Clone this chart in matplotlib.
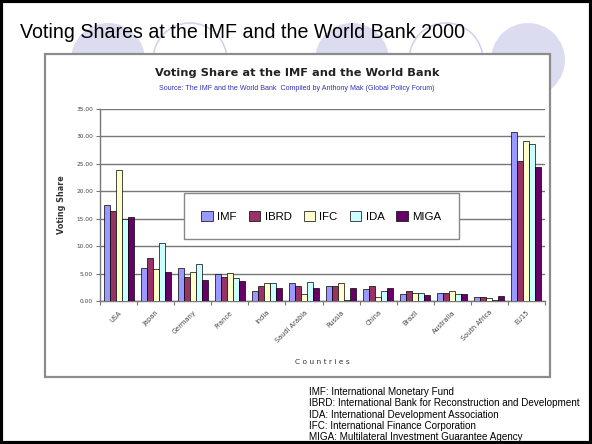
import matplotlib
matplotlib.use("Agg")
import matplotlib.pyplot as plt
from matplotlib.patches import Rectangle, Circle
import numpy as np

countries = ["USA", "Japan", "Germany", "France", "India", "Saudi Arabia", "Russia",
             "China", "Brazil", "Australia", "South Africa", "EU15"]
imf  = [17.5, 6.1, 6.1, 5.0, 1.8, 3.2, 2.7, 2.1, 1.3, 1.4, 0.7, 30.8]
ibrd = [16.4, 7.8, 4.3, 4.3, 2.7, 2.7, 2.7, 2.7, 1.9, 1.4, 0.7, 25.6]
ifc  = [23.8, 5.8, 5.2, 5.1, 3.3, 1.2, 3.3, 0.8, 1.5, 1.8, 0.6, 29.2]
ida  = [15.0, 10.6, 6.8, 4.2, 3.2, 3.5, 0.1, 1.8, 1.5, 1.2, 0.2, 28.6]
miga = [15.4, 5.3, 3.8, 3.6, 2.3, 2.4, 2.4, 2.4, 1.1, 1.3, 1.0, 24.5]
series_names = ["IMF", "IBRD", "IFC", "IDA", "MIGA"]
series_values = [imf, ibrd, ifc, ida, miga]
series_colors = ["#9999FF", "#993366", "#FFFFCC", "#CCFFFF", "#660066"]
yticks = [0, 5, 10, 15, 20, 25, 30, 35]
notes = ["IMF: International Monetary Fund",
         "IBRD: International Bank for Reconstruction and Development",
         "IDA: International Development Association",
         "IFC: International Finance Corporation",
         "MIGA: Multilateral Investment Guarantee Agency"]

W, H = 592, 444
fig = plt.figure(figsize=(W / 100, H / 100), dpi=100)
fig.patch.set_facecolor("white")

# background slide layer in pixel coordinates
bg = fig.add_axes([0, 0, 1, 1])
bg.set_xlim(0, W)
bg.set_ylim(H, 0)
bg.axis("off")

circ_fill = "#DCDCF0"
circ_line = "#D0D0EA"
for cx, filled in [(108, True), (190, False), (352, True), (446, False), (528, True)]:
    if filled:
        bg.add_patch(Circle((cx, 60), 37, facecolor=circ_fill, edgecolor="none", zorder=1))
    else:
        bg.add_patch(Circle((cx, 60), 37, facecolor="none", edgecolor=circ_line, lw=1.1, zorder=1))

bg.text(20, 33, "Voting Shares at the IMF and the World Bank 2000", fontsize=14.15,
        family="Liberation Sans", va="center", ha="left", color="black", zorder=3)

# chart frame
bg.add_patch(Rectangle((45, 54), 505, 323, facecolor="white", edgecolor="#8C8C8C", lw=1.6, zorder=2))

bg.text(297, 73, "Voting Share at the IMF and the World Bank", fontsize=8.2,
        family="DejaVu Sans", weight="bold", ha="center", va="center", color="#222222", zorder=3)
bg.text(297, 88, "Source: The IMF and the World Bank  Compiled by Anthony Mak (Global Policy Forum)",
        fontsize=5.15, family="Liberation Sans", ha="center", va="center", color="#3333BB", zorder=3)

for k, line in enumerate(notes):
    bg.text(309, 392 + 11.3 * k, line, fontsize=7.1, family="Liberation Sans",
            ha="left", va="center", color="black", zorder=3)

# slide border
bg.add_patch(Rectangle((1, 1), W - 2.5, H - 2.5, facecolor="none", edgecolor="black", lw=3, zorder=5))

# chart axes
ax = fig.add_axes([100 / W, 1 - 301 / H, 445 / W, 192 / H])
ax.set_facecolor("none")
x = np.arange(len(countries))
bw = 0.162
for j, (name, vals, col) in enumerate(zip(series_names, series_values, series_colors)):
    ax.bar(x + (j - 2) * bw, vals, width=bw, color=col, edgecolor="black", lw=0.5,
           label=name, zorder=3)

ax.set_xlim(-0.5, len(countries) - 0.5)
ax.set_ylim(0, 35)
ax.set_yticks(yticks)
ax.set_yticklabels([f"{v:.2f}" for v in yticks], fontsize=4.2, family="DejaVu Sans",
                   color="#444444")
ax.yaxis.grid(True, color="#777777", lw=1.0, zorder=0)
ax.set_axisbelow(True)
ax.tick_params(axis="y", length=3, width=0.8, color="#777777", pad=2)
ax.set_xticks(x)
ax.set_xticklabels(countries, rotation=45, ha="right", rotation_mode="anchor",
                   fontsize=4.8, family="DejaVu Sans", color="#444444")
ax.tick_params(axis="x", length=0, pad=6)
ax.set_xticks(np.arange(len(countries) + 1) - 0.5, minor=True)
ax.tick_params(axis="x", which="minor", length=3, width=0.8, color="#777777")
for s in ["top", "right"]:
    ax.spines[s].set_visible(False)
for s in ["left", "bottom"]:
    ax.spines[s].set_color("#777777")
    ax.spines[s].set_linewidth(1.0)

ax.set_ylabel("Voting Share", fontsize=5.8, weight="bold", family="DejaVu Sans",
              color="#333333", labelpad=7)
ax.set_xlabel("C o u n t r i e s", fontsize=5.4, family="DejaVu Sans", color="#333333",
              labelpad=11)

leg = ax.legend(loc="center", bbox_to_anchor=(0.4978, 0.4427), ncol=5,
                prop={"family": "Liberation Sans", "size": 8.2},
                frameon=True, fancybox=False, framealpha=1, edgecolor="#888888",
                handlelength=1.0, handleheight=1.0, handletextpad=0.4,
                columnspacing=1.05, borderpad=1.5, borderaxespad=0)
leg.get_frame().set_linewidth(1.0)
leg.set_zorder(5)

fig.savefig("out.png", dpi=100, facecolor="white")
